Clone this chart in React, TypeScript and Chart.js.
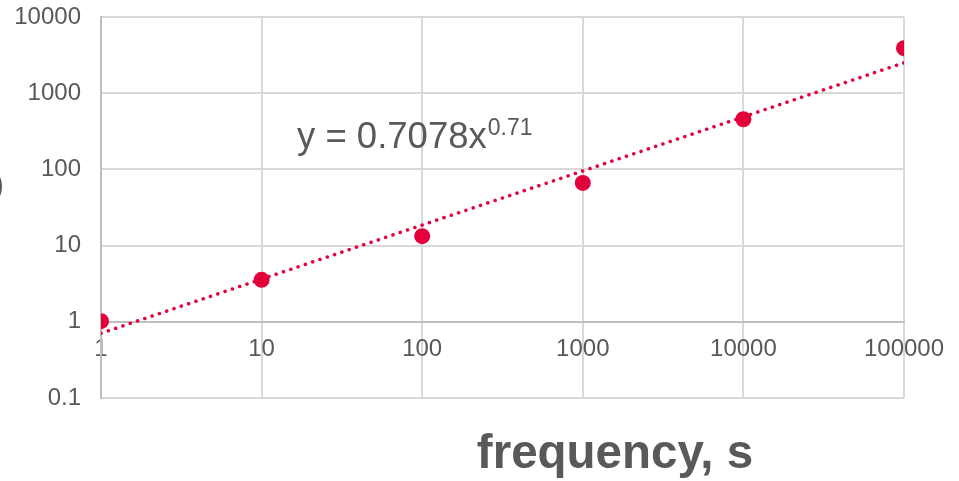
import React, { useEffect, useRef } from "react";
import { Chart, registerables } from "chart.js";

Chart.register(...registerables);

const pointX = [1, 10, 100, 1000, 10000, 100000];
const pointY = [1.02, 3.55, 13.3, 66.5, 455, 3900];
const trendX = [1, 100000];
const trendY = [0.7078, 2511];
const xTicks = [1, 10, 100, 1000, 10000, 100000];
const yTicks = [0.1, 1, 10, 100, 1000, 10000];
const equationMain = "y = 0.7078x";
const equationSup = "0.71";
const xTitle = "frequency, s";
const yTitleFragment = ")";

const FONT = "'Liberation Sans', Arial, sans-serif";
const RED = "#E4003B";
const TEXT = "#595959";

const textPlugin = {
  id: "texts",
  afterDraw(chart: any) {
    const ctx = chart.ctx;
    const area = chart.chartArea;
    ctx.save();
    ctx.fillStyle = TEXT;
    ctx.textBaseline = "alphabetic";
    ctx.textAlign = "left";
    ctx.font = `36.5px ${FONT}`;
    const ex = area.left + 196;
    const ey = area.top + 131;
    ctx.fillText(equationMain, ex, ey);
    const w = ctx.measureText(equationMain).width;
    ctx.font = `23px ${FONT}`;
    ctx.fillText(equationSup, ex + w + 1, ey - 13);
    ctx.font = `bold 47.5px ${FONT}`;
    ctx.textAlign = "center";
    ctx.fillText(xTitle, 615, 468);
    ctx.font = `34px ${FONT}`;
    ctx.textAlign = "right";
    ctx.textBaseline = "middle";
    ctx.fillText(yTitleFragment, 4, 186);
    ctx.restore();
  },
};

const zeroPad = (s: any) => {
  s.paddingTop = 0;
  s.paddingBottom = 0;
  s.paddingLeft = 0;
  s.paddingRight = 0;
};

export default function App() {
  const ref = useRef<HTMLCanvasElement | null>(null);
  useEffect(() => {
    if (!ref.current) return;
    const chart = new Chart(ref.current, {
      type: "scatter",
      data: {
        datasets: [
          {
            label: "data",
            data: pointX.map((x, i) => ({ x, y: pointY[i] })),
            backgroundColor: RED,
            borderWidth: 0,
            pointRadius: 8,
            pointHoverRadius: 8,
          },
          {
            label: "trend",
            type: "line",
            data: trendX.map((x, i) => ({ x, y: trendY[i] })),
            borderColor: RED,
            borderWidth: 3.5,
            borderDash: [0.1, 7.6],
            borderCapStyle: "round",
            pointRadius: 0,
            fill: false,
          } as any,
        ],
      },
      options: {
        animation: false,
        responsive: false,
        maintainAspectRatio: false,
        layout: { padding: { left: 0, right: 55, top: 17, bottom: 83 } },
        plugins: { legend: { display: false }, tooltip: { enabled: false } },
        scales: {
          x: {
            type: "logarithmic",
            min: 1,
            max: 100000,
            position: { y: 1 } as any,
            afterBuildTicks: (s: any) => {
              s.ticks = xTicks.map((v) => ({ value: v }));
            },
            afterFit: zeroPad,
            ticks: {
              callback: (v: any) => String(v),
              color: TEXT,
              font: { family: FONT, size: 24 },
              padding: 13,
              maxRotation: 0,
              autoSkip: false,
            },
            grid: { color: "#d9d9d9", lineWidth: 2, drawTicks: false },
            border: { color: "#bfbfbf", width: 2 },
          },
          y: {
            type: "logarithmic",
            min: 0.1,
            max: 10000,
            afterBuildTicks: (s: any) => {
              s.ticks = yTicks.map((v) => ({ value: v }));
            },
            afterFit: (s: any) => {
              zeroPad(s);
              s.width = 101;
            },
            ticks: {
              callback: (v: any) => String(v),
              color: TEXT,
              font: { family: FONT, size: 24 },
              padding: 20,
              autoSkip: false,
            },
            grid: { color: "#d9d9d9", lineWidth: 2, drawTicks: false },
            border: { color: "#bfbfbf", width: 2 },
          },
        },
      },
      plugins: [textPlugin],
    });
    return () => chart.destroy();
  }, []);
  return (
    <div style={{ position: "fixed", left: 0, top: 0, width: 959, height: 481, background: "#fff" }}>
      <canvas ref={ref} width={959} height={481} style={{ display: "block" }} />
    </div>
  );
}
